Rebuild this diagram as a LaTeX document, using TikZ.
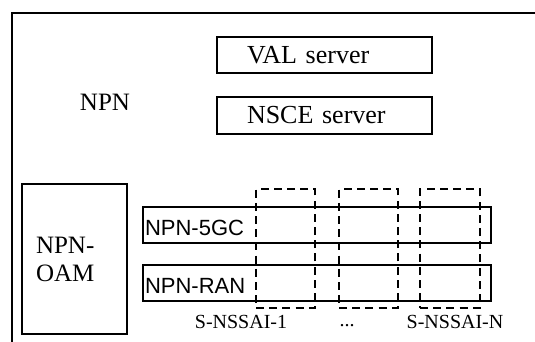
\documentclass[tikz,border=0pt]{standalone}
\usepackage{fontspec}
\setmainfont{Liberation Serif}
\setsansfont{Liberation Sans}

\begin{document}
\begin{tikzpicture}[
        x=0.5pt, y=-0.5pt,
        every node/.style={inner sep=0pt, outer sep=0pt},
        serverbox/.style={draw, line width=0.85pt, minimum width=107.5pt, minimum height=18pt,
          text width=77.5pt, inner xsep=15pt, align=left, font=\fontsize{13}{15}\selectfont},
        layerbox/.style={draw, line width=0.85pt, minimum width=174pt, minimum height=18pt},
        slicebox/.style={draw, line width=1pt, dash pattern=on 4pt off 2.6pt,
          minimum width=29.5pt, minimum height=59.5pt},
        layertext/.style={anchor=west, font=\sffamily\fontsize{11}{13}\selectfont},
        slicetext/.style={font=\fontsize{10}{12}\selectfont},
      ]

      \useasboundingbox (0,0) rectangle (535,342);

      % outer NPN frame (runs off the page on the right and bottom)
      \draw[line width=1pt, line cap=butt] (535,13) -- (12,13) -- (12,342);
      \node[font=\fontsize{12.5}{15}\selectfont] (npn) at (105,102) {NPN};

      \node[serverbox] (val) at (324.5,55) {VAL server};
      \node[serverbox, minimum height=18.5pt] (nsce) at (324.5,115.5) {NSCE server};

      \node[draw, line width=0.85pt, minimum width=52.5pt, minimum height=75pt,
        text width=38.5pt, inner xsep=7pt, align=left,
        font=\fontsize{12.5}{14}\selectfont] (oam) at (74.5,259) {NPN-\\OAM};

      \node[layerbox] (core) at (317,225) {};
      \node[layerbox] (ran) at (317,283) {};
      \node[layertext] (coretext) at ([xshift=1pt,yshift=-1.5pt]core.west) {NPN-5GC};
      \node[layertext] (rantext) at ([xshift=1pt,yshift=-1.5pt]ran.west) {NPN-RAN};

      % network slices
      \node[slicebox] (slice1) at (285.5,248.5) {};
      \node[slicebox] (slice2) at (368.5,248.5) {};
      \node[slicebox, minimum width=30pt] (sliceN) at (450,248.5) {};

      \node[slicetext] (slice1text) at (241,322) {S-NSSAI-1};
      \node[slicetext] (dots) at (347,326) {...};
      \node[slicetext] (sliceNtext) at (455,322) {S-NSSAI-N};

    \end{tikzpicture}
\end{document}
